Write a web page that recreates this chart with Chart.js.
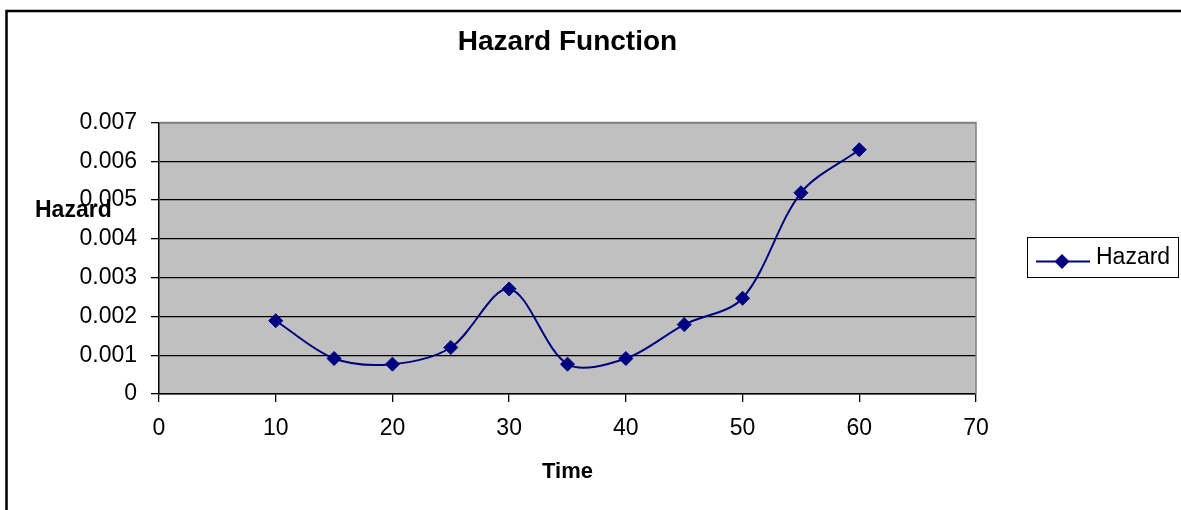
<!DOCTYPE html>
<html>
<head>
<meta charset="utf-8">
<title>Hazard Function</title>
<script src="https://cdn.jsdelivr.net/npm/chart.js@4/dist/chart.umd.min.js"></script>
<style>
  html, body { margin: 0; padding: 0; background: #fff; }
  #wrap { position: relative; width: 1181px; height: 510px; }
</style>
</head>
<body>
<div id="wrap"><canvas id="hazardChart"></canvas></div>
<script>
// data
const times = [10, 15, 20, 25, 30, 35, 40, 45, 50, 55, 60];
const hazard = [0.00189, 0.000915, 0.00077, 0.0012, 0.00271, 0.00077, 0.000915, 0.00179, 0.00247, 0.00519, 0.0063];

// axis ticks
const xTicks = [0, 10, 20, 30, 40, 50, 60, 70];
const yTicks = [0, 0.001, 0.002, 0.003, 0.004, 0.005, 0.006, 0.007];
const yTickLabels = ['0', '0.001', '0.002', '0.003', '0.004', '0.005', '0.006', '0.007'];

const FONT = "Arial, 'Liberation Sans', sans-serif";
const NAVY = '#000080';

// excel style frame, plot background, y title and legend
const framePlugin = {
  id: 'frame',
  beforeDraw(chart) {
    const { ctx, chartArea: a } = chart;
    ctx.save();
    ctx.fillStyle = '#fff';
    ctx.fillRect(0, 0, chart.width, chart.height);
    ctx.fillStyle = '#C0C0C0';
    ctx.fillRect(a.left, a.top, a.right - a.left, a.bottom - a.top);
    ctx.restore();
  },
  beforeDatasetsDraw(chart) {
    // gray top + right border of the plot area
    const { ctx, chartArea: a } = chart;
    ctx.save();
    ctx.strokeStyle = '#808080';
    ctx.lineWidth = 1.5;
    ctx.beginPath();
    ctx.moveTo(a.left, a.top);
    ctx.lineTo(a.right, a.top);
    ctx.lineTo(a.right, a.bottom);
    ctx.stroke();
    ctx.restore();
  },
  afterDraw(chart) {
    const { ctx } = chart;
    ctx.save();

    // outer chart border
    ctx.strokeStyle = '#000';
    ctx.lineWidth = 2.5;
    ctx.strokeRect(6.5, 11, 1400, 700);

    // y axis title, horizontal like excel
    ctx.fillStyle = '#000';
    ctx.font = 'bold 23px ' + FONT;
    ctx.textAlign = 'left';
    ctx.textBaseline = 'middle';
    ctx.fillText('Hazard', 35, 211);

    // legend box
    const ds = chart.data.datasets[0];
    ctx.fillStyle = '#fff';
    ctx.fillRect(1027.5, 237.5, 151, 40);
    ctx.strokeStyle = '#000';
    ctx.lineWidth = 1;
    ctx.strokeRect(1027.5, 237.5, 151, 40);

    ctx.strokeStyle = ds.borderColor;
    ctx.lineWidth = 2;
    ctx.beginPath();
    ctx.moveTo(1036, 261.5);
    ctx.lineTo(1090, 261.5);
    ctx.stroke();

    ctx.fillStyle = ds.pointBackgroundColor;
    ctx.beginPath();
    ctx.moveTo(1062, 254);
    ctx.lineTo(1069.5, 261.5);
    ctx.lineTo(1062, 269);
    ctx.lineTo(1054.5, 261.5);
    ctx.closePath();
    ctx.fill();

    ctx.fillStyle = '#000';
    ctx.font = '23px ' + FONT;
    ctx.textBaseline = 'middle';
    ctx.fillText(ds.label, 1096, 258);

    ctx.restore();
  }
};

new Chart(document.getElementById('hazardChart'), {
  type: 'scatter',
  data: {
    datasets: [{
      label: 'Hazard',
      data: times.map((t, i) => ({ x: t, y: hazard[i] })),
      showLine: true,
      borderColor: NAVY,
      borderWidth: 2,
      tension: 0.32,
      pointStyle: 'rectRot',
      pointRadius: 7,
      pointBackgroundColor: NAVY,
      pointBorderColor: NAVY,
      pointBorderWidth: 1
    }]
  },
  options: {
    responsive: true,
    maintainAspectRatio: false,
    animation: false,
    layout: { padding: { left: 0, right: 205, top: 0, bottom: 0 } },
    plugins: {
      legend: { display: false },
      tooltip: { enabled: false },
      title: {
        display: true,
        text: 'Hazard Function',
        fullSize: false,
        color: '#000',
        font: { family: FONT, size: 28, weight: 'bold' },
        padding: { top: 25, bottom: 64 }
      }
    },
    scales: {
      x: {
        type: 'linear',
        min: 0,
        max: 70,
        afterBuildTicks: (scale) => { scale.ticks = xTicks.map(v => ({ value: v })); },
        afterFit: (scale) => { scale.height = 116; },
        ticks: {
          color: '#000',
          padding: 13,
          maxRotation: 0,
          autoSkip: false,
          font: { family: FONT, size: 23 },
          callback: (v) => String(v)
        },
        grid: { drawOnChartArea: false, color: '#000', lineWidth: 1.3, tickLength: 8 },
        border: { color: '#000', width: 1.5 },
        title: {
          display: true,
          text: 'Time',
          color: '#000',
          font: { family: FONT, size: 22, weight: 'bold' },
          padding: { top: 0, bottom: 25 }
        }
      },
      y: {
        type: 'linear',
        min: 0,
        max: 0.007,
        afterBuildTicks: (scale) => { scale.ticks = yTicks.map(v => ({ value: v })); },
        afterFit: (scale) => { scale.width = 159; },
        ticks: {
          color: '#000',
          padding: 14,
          autoSkip: false,
          font: { family: FONT, size: 23 },
          callback: (v, i) => yTickLabels[i]
        },
        grid: { color: '#000', lineWidth: 1.3, tickLength: 8 },
        border: { color: '#000', width: 1.5 }
      }
    }
  },
  plugins: [framePlugin]
});
</script>
</body>
</html>
